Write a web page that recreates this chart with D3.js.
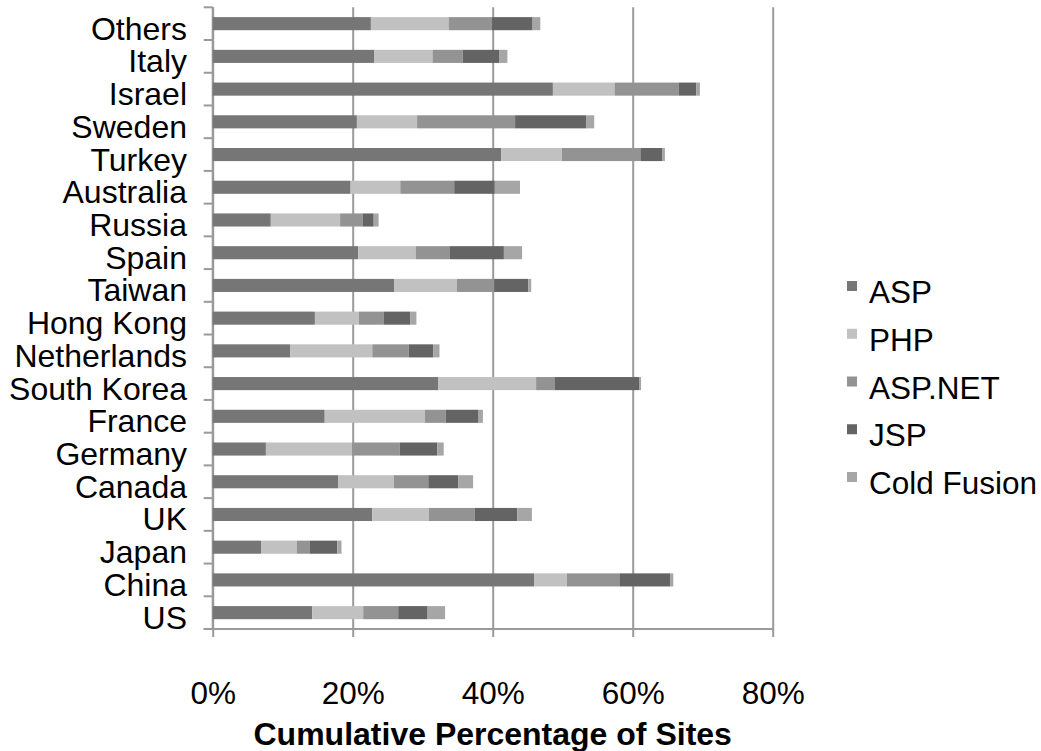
<!DOCTYPE html>
<html lang="en">
<head>
  <meta charset="UTF-8" />
  <title>Cumulative Percentage of Sites</title>
  <script src="https://d3js.org/d3.v7.min.js"></script>
  <style>
    body { margin: 0; background: #fff; }
    svg { font-family: "Liberation Sans", Arial, sans-serif; }
    .grid line, .grid path { stroke: #9a9a9a; stroke-width: 2px; }
  </style>
</head>
<body>
  <svg width="1041" height="751"></svg>

  <script>
    // categories top to bottom, as drawn
    const countries = ["Others", "Italy", "Israel", "Sweden", "Turkey", "Australia", "Russia", "Spain",
      "Taiwan", "Hong Kong", "Netherlands", "South Korea", "France", "Germany", "Canada", "UK",
      "Japan", "China", "US"];

    // segment sizes in percent, same order as countries
    const asp        = [22.6, 23.1, 48.6, 20.6, 41.2, 19.7, 8.3, 20.8, 25.9, 14.6, 11.1, 32.2, 16.0, 7.6, 17.9, 22.8, 6.9, 45.9, 14.2];
    const php        = [11.1, 8.3, 8.8, 8.6, 8.7, 7.1, 9.9, 8.2, 9.0, 6.3, 11.7, 14.0, 14.3, 12.3, 8.0, 8.1, 5.1, 4.7, 7.3];
    const aspnet     = [6.2, 4.3, 9.2, 14.0, 11.2, 7.7, 3.2, 4.9, 5.3, 3.5, 5.2, 2.7, 3.0, 6.8, 4.9, 6.5, 1.9, 7.5, 5.0];
    const jsp        = [5.8, 5.2, 2.5, 10.2, 3.1, 5.8, 1.6, 7.7, 4.9, 3.8, 3.5, 12.0, 4.6, 5.4, 4.3, 6.1, 3.9, 7.3, 4.2];
    const coldFusion = [1.1, 1.2, 0.5, 1.1, 0.4, 3.6, 0.7, 2.6, 0.4, 0.9, 0.9, 0.3, 0.7, 0.9, 2.1, 2.1, 0.6, 0.4, 2.5];

    const seriesNames = ["ASP", "PHP", "ASP.NET", "JSP", "Cold Fusion"];
    const seriesColors = ["#767676", "#c1c1c1", "#939393", "#646464", "#a6a6a6"];
    const xTicks = [0, 20, 40, 60, 80];

    const rows = countries.map((c, i) => ({
      country: c,
      "ASP": asp[i], "PHP": php[i], "ASP.NET": aspnet[i], "JSP": jsp[i], "Cold Fusion": coldFusion[i]
    }));

    const svg = d3.select("svg");
    const plotLeft = 212.7, plotRight = 772.7, plotTop = 7.3, plotBottom = 629;

    const x = d3.scaleLinear().domain([0, 80]).range([plotLeft, plotRight]);
    const y = d3.scaleBand().domain(countries).range([plotTop, plotBottom])
      .paddingInner(0.6).paddingOuter(0.3);

    // vertical gridlines
    svg.append("g")
      .attr("class", "grid")
      .attr("transform", `translate(0,${plotBottom})`)
      .call(d3.axisBottom(x).tickValues(xTicks).tickSize(-(plotBottom - plotTop)).tickFormat(""))
      .call(g => g.select(".domain").remove());

    // x axis with small ticks below
    const gx = svg.append("g")
      .attr("class", "grid")
      .attr("transform", `translate(0,${plotBottom})`)
      .call(d3.axisBottom(x).tickValues(xTicks).tickSize(8).tickSizeOuter(0)
        .tickFormat(d => d + "%"));
    gx.select(".domain").attr("d", `M${plotLeft - 9},0H${plotRight}`);
    gx.selectAll("text")
      .attr("y", 75).attr("dy", null)
      .attr("fill", "#000")
      .style("font-size", "31.5px");

    // y axis line and band ticks
    const gy = svg.append("g").attr("class", "grid");
    gy.append("line").attr("x1", plotLeft).attr("x2", plotLeft).attr("y1", plotTop).attr("y2", plotBottom);
    gy.selectAll("line.tk")
      .data(d3.range(countries.length + 1))
      .join("line")
      .attr("class", "tk")
      .attr("x1", plotLeft - 9).attr("x2", plotLeft)
      .attr("y1", i => plotTop + i * y.step())
      .attr("y2", i => plotTop + i * y.step());

    // stacked bars
    const stack = d3.stack().keys(seriesNames)(rows);
    svg.append("g")
      .selectAll("g")
      .data(stack)
      .join("g")
      .attr("fill", (d, i) => seriesColors[i])
      .selectAll("rect")
      .data(d => d)
      .join("rect")
      .attr("x", d => x(d[0]))
      .attr("y", d => y(d.data.country))
      .attr("width", d => x(d[1]) - x(d[0]))
      .attr("height", y.bandwidth());

    // category labels
    svg.append("g")
      .selectAll("text")
      .data(countries)
      .join("text")
      .attr("x", 187)
      .attr("y", d => y(d) + y.bandwidth() / 2 + 16)
      .attr("text-anchor", "end")
      .style("font-size", "32px")
      .text(d => d);

    // legend
    const legend = svg.append("g")
      .selectAll("g")
      .data(seriesNames)
      .join("g")
      .attr("transform", (d, i) => `translate(847,${303 + i * 47.75})`);
    legend.append("rect")
      .attr("x", 0).attr("y", -22)
      .attr("width", 10).attr("height", 10)
      .attr("fill", (d, i) => seriesColors[i]);
    legend.append("text")
      .attr("x", 22).attr("y", 0)
      .style("font-size", "31.5px")
      .text(d => d);

    // axis title
    svg.append("text")
      .attr("x", (plotLeft + plotRight) / 2)
      .attr("y", 745)
      .attr("text-anchor", "middle")
      .style("font-size", "32px")
      .style("font-weight", "bold")
      .text("Cumulative Percentage of Sites");
  </script>
</body>
</html>
